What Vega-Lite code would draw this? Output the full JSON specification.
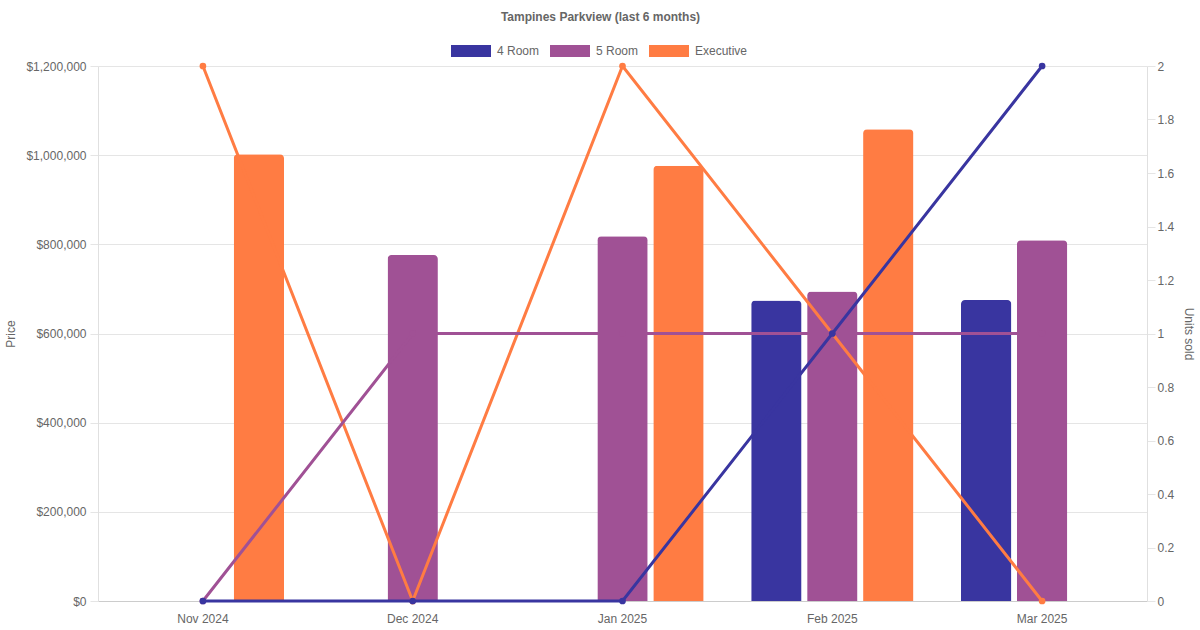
{
  "$schema": "https://vega.github.io/schema/vega-lite/v6.json",
  "width": 1049,
  "height": 535,
  "autosize": {"type": "none"},
  "padding": {"left": 98, "top": 66, "right": 53, "bottom": 29},
  "background": "white",
  "config": {
    "font": "Liberation Sans",
    "view": {"stroke": null}
  },
  "title": {
    "text": "Tampines Parkview (last 6 months)",
    "fontSize": 12,
    "fontWeight": "bold",
    "color": "#666666",
    "font": "Liberation Sans",
    "dx": -22,
    "offset": 7
  },
  "data": {
    "values": [
      {"month": "Nov 2024", "type": "4 Room", "price": null, "units": 0},
      {"month": "Nov 2024", "type": "5 Room", "price": null, "units": 0},
      {"month": "Nov 2024", "type": "Executive", "price": 1002000, "units": 2},
      {"month": "Dec 2024", "type": "4 Room", "price": null, "units": 0},
      {"month": "Dec 2024", "type": "5 Room", "price": 776000, "units": 1},
      {"month": "Dec 2024", "type": "Executive", "price": null, "units": 0},
      {"month": "Jan 2025", "type": "4 Room", "price": null, "units": 0},
      {"month": "Jan 2025", "type": "5 Room", "price": 818000, "units": 1},
      {"month": "Jan 2025", "type": "Executive", "price": 976000, "units": 2},
      {"month": "Feb 2025", "type": "4 Room", "price": 674000, "units": 1},
      {"month": "Feb 2025", "type": "5 Room", "price": 694000, "units": 1},
      {"month": "Feb 2025", "type": "Executive", "price": 1058000, "units": 1},
      {"month": "Mar 2025", "type": "4 Room", "price": 675000, "units": 2},
      {"month": "Mar 2025", "type": "5 Room", "price": 809000, "units": 1},
      {"month": "Mar 2025", "type": "Executive", "price": null, "units": 0}
    ]
  },
  "encoding": {
    "x": {
      "field": "month",
      "type": "nominal",
      "sort": ["Nov 2024", "Dec 2024", "Jan 2025", "Feb 2025", "Mar 2025"],
      "scale": {"paddingInner": 0.2, "paddingOuter": 0.1},
      "axis": {
        "title": null,
        "labelAngle": 0,
        "ticks": false,
        "grid": false,
        "labelPadding": 12,
        "labelFontSize": 12,
        "labelColor": "#666666",
        "domainColor": "#cccccc",
        "domainWidth": 1
      }
    }
  },
  "layer": [
    {
      "mark": {"type": "bar", "cornerRadiusEnd": 4},
      "encoding": {
        "xOffset": {
          "field": "type",
          "type": "nominal",
          "sort": ["4 Room", "5 Room", "Executive"],
          "scale": {"paddingInner": 0.1, "paddingOuter": 0.05}
        },
        "y": {
          "field": "price",
          "type": "quantitative",
          "scale": {"domain": [0, 1200000], "nice": false},
          "axis": {
            "title": "Price",
            "values": [0, 200000, 400000, 600000, 800000, 1000000, 1200000],
            "format": "$,.0f",
            "grid": true,
            "gridColor": "#e5e5e5",
            "domainColor": "#e0e0e0",
            "tickColor": "#e5e5e5",
            "tickSize": 8,
            "labelPadding": 4,
            "labelFontSize": 12,
            "labelColor": "#666666",
            "titleColor": "#666666",
            "titleFontSize": 12,
            "titleFontWeight": "normal",
            "titlePadding": 8
          }
        },
        "color": {
          "field": "type",
          "type": "nominal",
          "scale": {
            "domain": ["4 Room", "5 Room", "Executive"],
            "range": ["#3935a0", "#a05195", "#ff7c43"]
          },
          "legend": {
            "orient": "none",
            "legendX": 353,
            "legendY": -35,
            "direction": "horizontal",
            "title": null,
            "symbolType": "M-1,-0.3H1V0.3H-1Z",
            "symbolSize": 1600,
            "symbolStrokeWidth": 0,
            "labelFontSize": 12,
            "labelColor": "#666666",
            "labelOffset": 6,
            "columnPadding": 10
          }
        }
      }
    },
    {
      "layer": [
        {
          "transform": [{"filter": "datum.type === 'Executive'"}],
          "mark": {"type": "line", "strokeWidth": 3, "point": {"filled": true, "size": 45}},
          "encoding": {
            "y": {
              "field": "units",
              "type": "quantitative",
              "scale": {"domain": [0, 2], "nice": false},
              "axis": {
                "orient": "right",
                "title": "Units sold",
                "values": [0, 0.2, 0.4, 0.6, 0.8, 1, 1.2, 1.4, 1.6, 1.8, 2],
                "format": "~g",
                "grid": false,
                "domainColor": "#e0e0e0",
                "tickColor": "#e5e5e5",
                "tickSize": 8,
                "labelPadding": 2,
                "labelFontSize": 12,
                "labelColor": "#666666",
                "titleColor": "#666666",
                "titleFontSize": 12,
                "titleFontWeight": "normal",
                "titlePadding": 8
              }
            },
            "color": {"field": "type", "type": "nominal", "legend": null}
          }
        },
        {
          "transform": [{"filter": "datum.type === '5 Room'"}],
          "mark": {"type": "line", "strokeWidth": 3, "point": {"filled": true, "size": 45}},
          "encoding": {
            "y": {"field": "units", "type": "quantitative"},
            "color": {"field": "type", "type": "nominal", "legend": null}
          }
        },
        {
          "transform": [{"filter": "datum.type === '4 Room'"}],
          "mark": {"type": "line", "strokeWidth": 3, "point": {"filled": true, "size": 45}},
          "encoding": {
            "y": {"field": "units", "type": "quantitative"},
            "color": {"field": "type", "type": "nominal", "legend": null}
          }
        }
      ]
    }
  ],
  "resolve": {"scale": {"y": "independent"}, "axis": {"y": "independent"}}
}
